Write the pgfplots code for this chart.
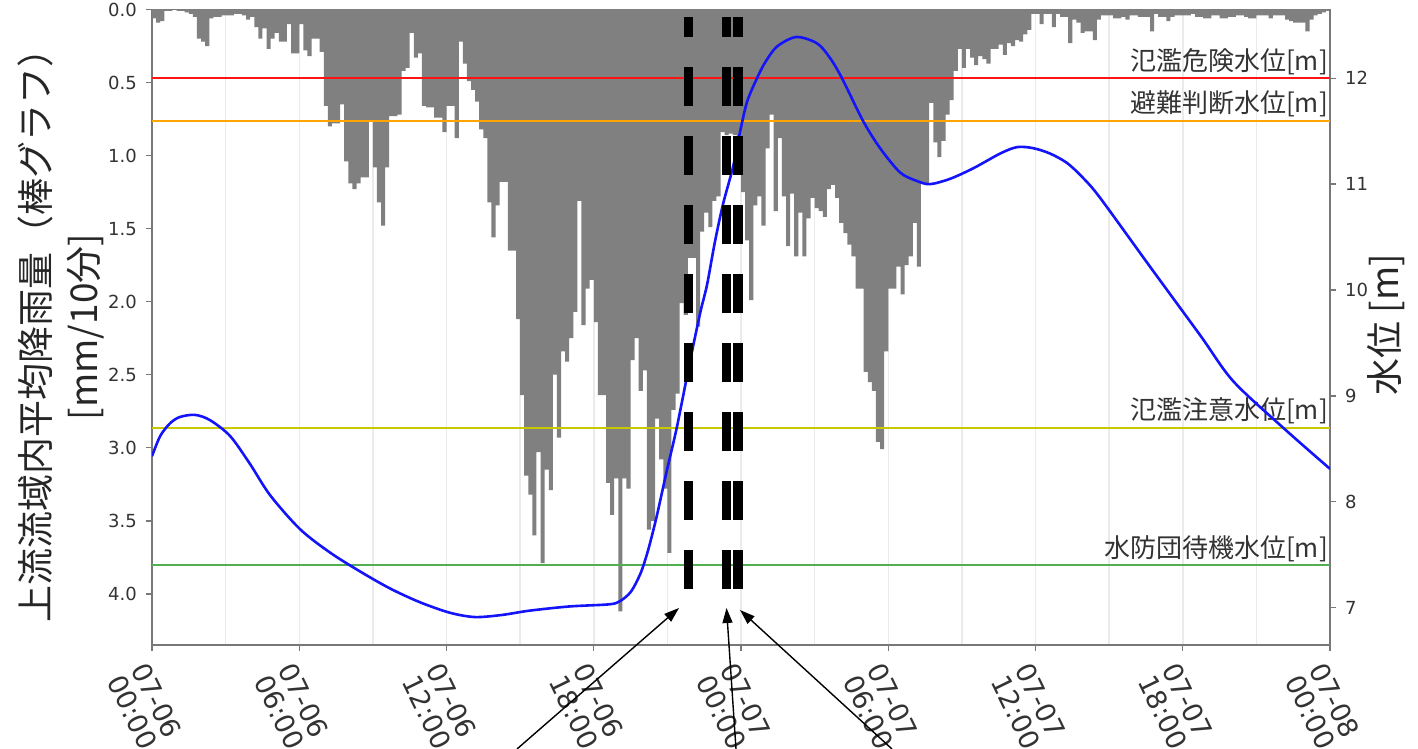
\documentclass[border=0pt]{standalone}
\usepackage{pgfplots}
\pgfplotsset{compat=1.18}
\usepackage{fontspec}
\setmainfont{DejaVu Sans}
\newfontfamily\cjk{Noto Sans CJK JP}
\usetikzlibrary{arrows.meta}
\definecolor{thrred}{RGB}{255,20,20}
\definecolor{throrange}{RGB}{255,165,0}
\definecolor{thryellow}{RGB}{200,200,0}
\definecolor{thrgreen}{RGB}{80,175,80}
\definecolor{lvlblue}{RGB}{20,20,250}
\definecolor{spine}{RGB}{120,120,120}
\begin{document}
\begin{tikzpicture}
\begin{axis}[
  set layers,
  at={(0,0)}, anchor=south west,
  scale only axis, width=1178pt, height=635.5pt,
  xmin=0, xmax=288, ymin=0, ymax=4.35, y dir=reverse,
  axis line style={draw=spine, line width=1.6pt},
  xtick={0,36,...,288}, minor xtick={18,54,...,270},
  xticklabels={07-06\\00:00,07-06\\06:00,07-06\\12:00,07-06\\18:00,07-07\\00:00,07-07\\06:00,07-07\\12:00,07-07\\18:00,07-08\\00:00},
  xmajorgrids, xminorgrids,
  major grid style={draw=black!8, line width=1.5pt},
  minor grid style={draw=black!8, line width=1.5pt},
  ytick={0,0.5,...,4.0},
  tick align=outside, major tick length=6pt, minor tick length=0pt,
  tick style={draw=spine, line width=1.4pt},
  xtick pos=left, xticklabel pos=left, ytick pos=left,
  /pgf/number format/assume math mode=true,
  yticklabel style={/pgf/number format/fixed, /pgf/number format/fixed zerofill, /pgf/number format/precision=1, font=\fontsize{18}{20}\selectfont, text=black!80, inner sep=0pt, xshift=-9pt},
  xticklabel style={rotate=-64, anchor=north west, align=center, font=\fontsize{27}{27}\selectfont, text=black!80, inner sep=0pt, xshift=7pt, yshift=-7pt},
]
\addplot[const plot, fill=black!50, draw=none] coordinates {
(0,0.06) (1,0.09) (2,0.08) (3,0.01) (4,0.01) (5,0.00) (6,0.01) (7,0.01) (8,0.02) (9,0.03)
(10,0.05) (11,0.20) (12,0.22) (13,0.25) (14,0.06) (15,0.05) (16,0.05) (17,0.04) (18,0.04) (19,0.04)
(20,0.03) (21,0.03) (22,0.04) (23,0.07) (24,0.05) (25,0.12) (26,0.20) (27,0.13) (28,0.27) (29,0.20)
(30,0.16) (31,0.22) (32,0.22) (33,0.10) (34,0.30) (35,0.30) (36,0.10) (37,0.28) (38,0.32) (39,0.20)
(40,0.20) (41,0.29) (42,0.66) (43,0.80) (44,0.78) (45,0.78) (46,0.65) (47,1.04) (48,1.19) (49,1.23)
(50,1.19) (51,1.15) (52,1.15) (53,0.76) (54,1.08) (55,1.32) (56,1.48) (57,1.08) (58,0.73) (59,0.73)
(60,0.72) (61,0.42) (62,0.40) (63,0.16) (64,0.33) (65,0.30) (66,0.66) (67,0.67) (68,0.67) (69,0.74)
(70,0.74) (71,0.84) (72,0.66) (73,0.66) (74,0.88) (75,0.22) (76,0.37) (77,0.49) (78,0.55) (79,0.63)
(80,0.82) (81,0.88) (82,1.32) (83,1.56) (84,1.34) (85,1.18) (86,1.18) (87,1.65) (88,1.65) (89,2.12)
(90,2.64) (91,3.19) (92,3.32) (93,3.60) (94,3.03) (95,3.79) (96,3.15) (97,3.29) (98,2.50) (99,2.93)
(100,2.34) (101,2.41) (102,2.25) (103,2.07) (104,1.31) (105,2.16) (106,1.91) (107,1.85) (108,2.14) (109,2.64)
(110,2.64) (111,3.24) (112,3.46) (113,3.21) (114,4.12) (115,3.21) (116,3.28) (117,2.40) (118,2.25) (119,2.61)
(120,2.47) (121,3.56) (122,3.50) (123,2.80) (124,3.08) (125,3.28) (126,3.72) (127,2.74) (128,2.63) (129,2.01)
(130,2.09) (131,1.70) (132,1.70) (133,2.17) (134,1.52) (135,1.39) (136,1.49) (137,1.31) (138,1.28) (139,0.84)
(140,0.86) (141,0.85) (142,0.86) (143,0.90) (144,1.25) (145,1.58) (146,1.99) (147,1.34) (148,1.28) (149,1.48)
(150,0.95) (151,0.72) (152,1.38) (153,0.88) (154,1.28) (155,1.62) (156,1.26) (157,1.69) (158,1.39) (159,1.69)
(160,1.43) (161,1.29) (162,1.36) (163,1.38) (164,1.42) (165,1.23) (166,1.20) (167,1.29) (168,1.46) (169,1.53)
(170,1.61) (171,1.69) (172,1.91) (173,1.91) (174,2.48) (175,2.55) (176,2.61) (177,2.96) (178,3.01) (179,2.34)
(180,1.91) (181,1.91) (182,1.76) (183,1.95) (184,1.75) (185,1.69) (186,1.46) (187,1.76) (188,1.18) (189,1.20)
(190,0.64) (191,0.91) (192,1.01) (193,0.90) (194,0.72) (195,0.62) (196,0.42) (197,0.27) (198,0.40) (199,0.27)
(200,0.33) (201,0.38) (202,0.32) (203,0.34) (204,0.37) (205,0.27) (206,0.27) (207,0.24) (208,0.31) (209,0.23)
(210,0.25) (211,0.21) (212,0.22) (213,0.17) (214,0.14) (215,0.03) (216,0.03) (217,0.10) (218,0.03) (219,0.03)
(220,0.12) (221,0.03) (222,0.05) (223,0.05) (224,0.23) (225,0.07) (226,0.09) (227,0.16) (228,0.15) (229,0.15)
(230,0.21) (231,0.07) (232,0.04) (233,0.04) (234,0.04) (235,0.06) (236,0.06) (237,0.05) (238,0.07) (239,0.04)
(240,0.04) (241,0.05) (242,0.05) (243,0.05) (244,0.15) (245,0.03) (246,0.05) (247,0.05) (248,0.08) (249,0.05)
(250,0.04) (251,0.04) (252,0.04) (253,0.04) (254,0.03) (255,0.05) (256,0.05) (257,0.06) (258,0.06) (259,0.04)
(260,0.04) (261,0.06) (262,0.06) (263,0.05) (264,0.05) (265,0.04) (266,0.04) (267,0.05) (268,0.06) (269,0.06)
(270,0.04) (271,0.04) (272,0.04) (273,0.06) (274,0.04) (275,0.04) (276,0.04) (277,0.07) (278,0.08) (279,0.09)
(280,0.09) (281,0.09) (282,0.15) (283,0.07) (284,0.04) (285,0.03) (286,0.02) (287,0.01) (288,0.01)
} \closedcycle;
\end{axis}
\begin{axis}[
  at={(0,0)}, anchor=south west,
  scale only axis, width=1178pt, height=635.5pt,
  xmin=0, xmax=288, ymin=6.646, ymax=12.65,
  axis x line=none, axis y line*=right,
  axis line style={draw=spine, line width=1.6pt},
  ytick={7,8,...,12},
  tick align=outside, major tick length=6pt,
  tick style={draw=spine, line width=1.4pt},
  /pgf/number format/assume math mode=true,
  yticklabel style={font=\fontsize{18}{20}\selectfont, text=black!80, inner sep=0pt, xshift=9pt},
  clip mode=individual,
]
\addplot[thrred, line width=2pt] coordinates {(0,12.0) (288,12.0)};
\addplot[throrange, line width=2pt] coordinates {(0,11.6) (288,11.6)};
\addplot[thryellow, line width=2pt] coordinates {(0,8.7) (288,8.7)};
\addplot[thrgreen, line width=2pt] coordinates {(0,7.4) (288,7.4)};
\begin{scope}[every node/.style={anchor=base east, inner sep=0pt, xshift=-2pt, yshift=8pt, text=black!80, font=\cjk\fontsize{26}{28}\selectfont}]
\node at (axis cs:288,12.0) {氾濫危険水位[m]};
\node at (axis cs:288,11.6) {避難判断水位[m]};
\node at (axis cs:288,8.7) {氾濫注意水位[m]};
\node at (axis cs:288,7.4) {水防団待機水位[m]};
\end{scope}
\addplot[lvlblue, line width=2.6pt, smooth] coordinates {
(0,8.43) (2.0,8.62) (4.4,8.74) (6.8,8.80) (10.5,8.82) (14.2,8.77) (19.1,8.62) (23.9,8.36)
(28.9,8.06) (36.2,7.74) (43.5,7.52) (50.9,7.34) (58.2,7.18) (65.5,7.05) (72.9,6.95) (79.0,6.91)
(85.6,6.93) (92.2,6.97) (102.0,7.01) (111.7,7.03) (114.4,7.06) (117.1,7.15) (119.3,7.31) (120.5,7.44)
(121.7,7.60) (123.5,7.88) (125.9,8.30) (128.3,8.70) (131.5,9.32) (134.0,9.78) (135.7,10.05) (137.6,10.45)
(139.6,10.81) (142.1,11.17) (143.8,11.50) (145.5,11.78) (147.9,12.00) (149.9,12.15) (152.8,12.30) (157.5,12.39)
(162.6,12.33) (165.8,12.19) (168.7,12.00) (173.8,11.60) (178.0,11.34) (182.9,11.11) (187.0,11.03) (190.2,11.00)
(195.1,11.05) (200.8,11.15) (207.4,11.29) (211.5,11.35) (215.4,11.34) (219.5,11.29) (223.7,11.20) (227.6,11.06)
(231.8,10.87) (244.0,10.22) (256.3,9.57) (264.3,9.14) (276.5,8.70) (288,8.31)
};
\addplot[black, line width=9.5pt, dash pattern=on 39pt off 30pt] coordinates {(131.2,7.175) (131.2,12.576)};
\addplot[black, line width=9.5pt, dash pattern=on 39pt off 30pt] coordinates {(140.5,7.175) (140.5,12.576)};
\addplot[black, line width=9.5pt, dash pattern=on 39pt off 30pt] coordinates {(143.3,7.175) (143.3,12.576)};
\end{axis}
\draw[-{Triangle[length=15pt,width=10pt]}, line width=1.4pt] (365pt,-104pt) -- (527pt,37pt);
\draw[-{Triangle[length=15pt,width=10pt]}, line width=1.4pt] (584pt,-104pt) -- (574.5pt,37pt);
\draw[-{Triangle[length=15pt,width=10pt]}, line width=1.4pt] (740pt,-104pt) -- (588pt,35pt);
\node[rotate=90, align=center, text=black!85, font=\cjk\fontsize{37}{48}\selectfont] at (-91pt,318pt) {上流流域内平均降雨量（棒グラフ）\\{[mm/10分]}};
\node[rotate=90, text=black!85, font=\cjk\fontsize{37}{44}\selectfont] at (1234pt,320pt) {水位 [m]};
\pgfresetboundingbox
\useasboundingbox (-152pt,-104pt) rectangle (1266pt,645pt);
\end{tikzpicture}
\end{document}
